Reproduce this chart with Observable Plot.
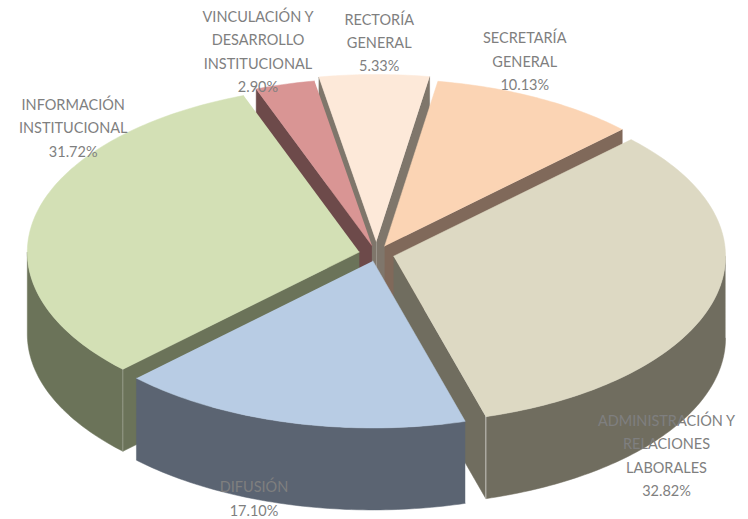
<!DOCTYPE html>
<html>
<head>
<meta charset="utf-8">
<script src="https://cdn.jsdelivr.net/npm/d3@7"></script>
<script src="https://cdn.jsdelivr.net/npm/@observablehq/plot@0.6"></script>
<style>
html,body{margin:0;padding:0;background:#fff;}
svg{display:block;}
</style>
</head>
<body>
<div id="chart"></div>
<script>
// Data
const names = [
  "ADMINISTRACIÓN Y\nRELACIONES\nLABORALES",
  "DIFUSIÓN",
  "INFORMACIÓN\nINSTITUCIONAL",
  "VINCULACIÓN Y\nDESARROLLO\nINSTITUCIONAL",
  "RECTORÍA\nGENERAL",
  "SECRETARÍA\nGENERAL"
];
const values = [32.82, 17.10, 31.72, 2.90, 5.33, 10.13];

// Styles
const topColors  = ["#ddd9c3", "#b8cce4", "#d3e0b5", "#d99594", "#fde9d9", "#fbd4b4"];
const wallColors = ["#706d5f", "#5b6472", "#6b7359", "#6d4a4a", "#7f766b", "#80695a"];
const textColor = "#7f7f7f";

// Layout
const firstAngle = 45.7;          // degrees clockwise from 12 o'clock
const explodes = [0.053, 0.043, 0.053, 0.053, 0.075, 0.053];   // radial offset, in pie radii
const depth = 0.491;              // wall height, in vertical pie radii
const cx = 376, cy = 253.5, rx = 332, ry = 167;
const drawOrder = [4, 3, 5, 2, 0, 1];   // back to front
const labelNudge = [              // pixels from the slice's outer arc midpoint
  [-48, 154.5], [-35, 74], [38, -90], [-27, -35], [5, -34], [-13, -39]
];

// Geometry derived from the values
const rad = d => d * Math.PI / 180;
const total = d3.sum(values);
let cursor = firstAngle;
const slices = values.map((v, i) => {
  const a0 = cursor, a1 = cursor + v / total * 360;
  cursor = a1;
  const mid = (a0 + a1) / 2;
  const ox = explodes[i] * Math.sin(rad(mid)), oy = explodes[i] * Math.cos(rad(mid));
  const toPoint = a => ({x: ox + Math.sin(rad(a)), y: oy + Math.cos(rad(a))});
  const sample = (b0, b1) => {
    const steps = Math.max(2, Math.ceil(b1 - b0));
    return d3.range(steps + 1).map(k => toPoint(b0 + (b1 - b0) * k / steps));
  };
  return {i, a0, a1, mid, ox, oy, sample, arc: sample(a0, a1), apex: {x: ox, y: oy}};
});
const drop = p => ({x: p.x, y: p.y - depth});
// Does the downward direction (180 deg) fall in the half-turn that starts at angle a?
const southWithin = a => {
  const n = ((a % 360) + 360) % 360;
  return (180 > n && 180 < n + 180) || (540 > n && 540 < n + 180);
};

const faces = [];
let faceId = 0;
const addFace = (pts, color) => {
  const face = faceId++;
  pts.forEach(p => faces.push({face, x: p.x, y: p.y, color}));
};
for (const i of drawOrder) {
  const s = slices[i];
  const first = s.arc[0], last = s.arc[s.arc.length - 1];
  if (!southWithin(s.a0)) addFace([s.apex, first, drop(first), drop(s.apex)], wallColors[i]);
  if (southWithin(s.a1)) addFace([s.apex, last, drop(last), drop(s.apex)], wallColors[i]);
  // Outer wall: only the part that faces the viewer (90 to 270 degrees)
  const from = Math.max(s.a0, 90), to = Math.min(s.a1, 270);
  if (to > from) {
    const front = s.sample(from, to);
    addFace([...front, ...front.map(drop).reverse()], wallColors[i]);
  }
  addFace([s.apex, ...s.arc], topColors[i]);
}
// Edge highlights where a radial wall meets the outer wall
const adminCorner = slices[0].arc[slices[0].arc.length - 1];
const greenCorner = slices[2].arc[0];

const labelMarks = slices.map(s => {
  const [dx, dy] = labelNudge[s.i];
  return Plot.text([s], {
    x: d => d.ox + Math.sin(rad(d.mid)),
    y: d => d.oy + Math.cos(rad(d.mid)),
    text: d => names[d.i] + "\n" + values[d.i].toFixed(2) + "%",
    dx, dy,
    fill: textColor,
    fontSize: 14.5,
    lineHeight: 1.62,
    textAnchor: "middle",
    lineAnchor: "middle"
  });
});

const chart = Plot.plot({
  width: 748,
  height: 519,
  margin: 0,
  style: {background: "#fff", fontFamily: "Lato, 'Open Sans', sans-serif"},
  x: {domain: [-1, 1], range: [cx - rx, cx + rx], axis: null},
  y: {domain: [1, -1], range: [cy - ry, cy + ry], axis: null},
  marks: [
    Plot.line(faces, {x: "x", y: "y", z: "face", fill: "color", stroke: "color", strokeWidth: 0.5}),
    Plot.line([greenCorner, drop(greenCorner)], {x: "x", y: "y", stroke: "#ffffff", strokeOpacity: 0.25, strokeWidth: 1}),
    Plot.line([adminCorner, drop(adminCorner)], {x: "x", y: "y", stroke: "#ffffff", strokeOpacity: 0.6, strokeWidth: 1}),
    ...labelMarks
  ]
});
document.getElementById("chart").append(chart);
</script>
</body>
</html>
